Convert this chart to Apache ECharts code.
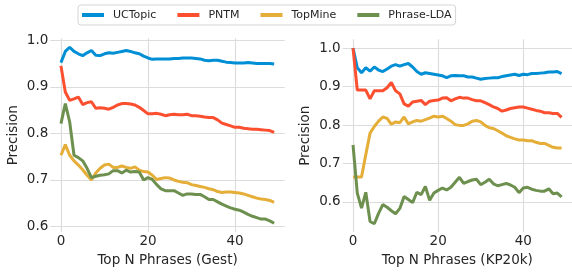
<!DOCTYPE html>
<html>
<head>
<meta charset="utf-8">
<script src="https://cdn.jsdelivr.net/npm/echarts@6/dist/echarts.min.js"></script>
<style>
  html, body { margin: 0; padding: 0; background: #fff; }
  #chart { width: 572px; height: 272px; }
</style>
</head>
<body>
<div id="chart"></div>
<script>
// x positions: Top N phrases, 0..49
var topN = [];
for (var i = 0; i < 50; i++) topN.push(i);

var methods = ['UCTopic', 'PNTM', 'TopMine', 'Phrase-LDA'];
var colors = ['#008fd5', '#fc4f30', '#e5ae38', '#6d904f'];
var xTicks = [0, 20, 40];
var yTicks = [0.6, 0.7, 0.8, 0.9, 1.0];

// Gest
var gestUCTopic = [0.952, 0.976, 0.985, 0.976, 0.971, 0.967, 0.973, 0.978, 0.968, 0.967,
  0.971, 0.973, 0.972, 0.974, 0.976, 0.978, 0.976, 0.973, 0.971, 0.966,
  0.962, 0.959, 0.960, 0.960, 0.960, 0.960, 0.961, 0.961, 0.962, 0.962,
  0.962, 0.961, 0.960, 0.957, 0.956, 0.957, 0.957, 0.955, 0.953, 0.952,
  0.951, 0.951, 0.951, 0.952, 0.951, 0.950, 0.950, 0.950, 0.950, 0.949];
var gestPNTM = [0.945, 0.889, 0.871, 0.874, 0.878, 0.862, 0.866, 0.868, 0.854, 0.855,
  0.854, 0.852, 0.856, 0.861, 0.864, 0.864, 0.863, 0.861, 0.856, 0.849,
  0.842, 0.842, 0.843, 0.841, 0.838, 0.840, 0.841, 0.840, 0.840, 0.841,
  0.838, 0.838, 0.837, 0.835, 0.834, 0.834, 0.829, 0.822, 0.819, 0.816,
  0.813, 0.813, 0.811, 0.810, 0.809, 0.809, 0.808, 0.807, 0.806, 0.802];
var gestTopMine = [0.753, 0.776, 0.753, 0.741, 0.732, 0.722, 0.710, 0.700, 0.715, 0.725,
  0.732, 0.734, 0.727, 0.727, 0.730, 0.727, 0.725, 0.728, 0.721, 0.718,
  0.717, 0.710, 0.701, 0.703, 0.705, 0.704, 0.700, 0.697, 0.695, 0.694,
  0.690, 0.688, 0.686, 0.684, 0.681, 0.679, 0.675, 0.673, 0.674, 0.674,
  0.673, 0.672, 0.670, 0.667, 0.664, 0.661, 0.659, 0.658, 0.656, 0.652];
var gestPhraseLDA = [0.821, 0.864, 0.825, 0.753, 0.748, 0.741, 0.725, 0.705, 0.708, 0.710,
  0.711, 0.713, 0.720, 0.720, 0.715, 0.721, 0.717, 0.718, 0.717, 0.700,
  0.705, 0.701, 0.690, 0.681, 0.677, 0.677, 0.677, 0.672, 0.667, 0.670,
  0.670, 0.669, 0.669, 0.664, 0.658, 0.658, 0.653, 0.648, 0.644, 0.640,
  0.637, 0.635, 0.631, 0.626, 0.622, 0.619, 0.616, 0.616, 0.612, 0.607];

// KP20k
var kpUCTopic = [1.000, 0.949, 0.936, 0.949, 0.940, 0.951, 0.943, 0.939, 0.946, 0.953,
  0.957, 0.953, 0.957, 0.960, 0.951, 0.939, 0.932, 0.936, 0.934, 0.932,
  0.930, 0.928, 0.923, 0.928, 0.929, 0.928, 0.928, 0.925, 0.925, 0.922,
  0.919, 0.921, 0.922, 0.923, 0.923, 0.926, 0.928, 0.930, 0.932, 0.929,
  0.932, 0.931, 0.934, 0.934, 0.935, 0.936, 0.938, 0.938, 0.939, 0.934];
var kpPNTM = [1.000, 0.891, 0.891, 0.891, 0.868, 0.889, 0.889, 0.889, 0.897, 0.911,
  0.889, 0.881, 0.855, 0.849, 0.860, 0.862, 0.864, 0.853, 0.862, 0.864,
  0.865, 0.870, 0.871, 0.863, 0.868, 0.872, 0.870, 0.870, 0.866, 0.863,
  0.863, 0.858, 0.853, 0.847, 0.843, 0.836, 0.839, 0.843, 0.845, 0.847,
  0.847, 0.844, 0.841, 0.838, 0.836, 0.832, 0.832, 0.830, 0.830, 0.820];
var kpTopMine = [0.665, 0.665, 0.665, 0.723, 0.779, 0.796, 0.810, 0.821, 0.817, 0.802,
  0.808, 0.806, 0.821, 0.803, 0.808, 0.812, 0.810, 0.814, 0.818, 0.823,
  0.821, 0.823, 0.817, 0.810, 0.801, 0.799, 0.799, 0.803, 0.810, 0.812,
  0.808, 0.799, 0.793, 0.791, 0.785, 0.779, 0.772, 0.768, 0.764, 0.761,
  0.761, 0.759, 0.759, 0.755, 0.752, 0.752, 0.747, 0.742, 0.740, 0.740];
var kpPhraseLDA = [0.748, 0.623, 0.584, 0.625, 0.549, 0.543, 0.570, 0.593, 0.586, 0.577,
  0.569, 0.583, 0.614, 0.606, 0.598, 0.625, 0.619, 0.640, 0.604, 0.623,
  0.630, 0.636, 0.631, 0.638, 0.651, 0.664, 0.648, 0.653, 0.657, 0.659,
  0.645, 0.651, 0.659, 0.647, 0.642, 0.645, 0.648, 0.644, 0.638, 0.624,
  0.636, 0.638, 0.633, 0.630, 0.628, 0.628, 0.634, 0.621, 0.623, 0.613];

var gestData = [gestUCTopic, gestPNTM, gestTopMine, gestPhraseLDA];
var kpData = [kpUCTopic, kpPNTM, kpTopMine, kpPhraseLDA];

var font = 'DejaVu Sans';
var textColor = '#262626';
var gridColor = '#dcdcdc';
var axisFont = 13.5;

function pairs(ys) {
  return topN.map(function (x, i) { return [x, ys[i]]; });
}

function xAxis(idx, title) {
  return {
    type: 'value', gridIndex: idx, min: -2.45, max: 51.45,
    name: title, nameLocation: 'middle', nameGap: 20,
    nameTextStyle: { fontFamily: font, fontSize: axisFont, color: textColor },
    axisLine: { show: false },
    axisTick: { show: false, customValues: xTicks },
    axisLabel: { customValues: xTicks, fontFamily: font, fontSize: axisFont, color: textColor, margin: 2 },
    splitLine: { show: true, lineStyle: { color: gridColor, width: 1.2 } }
  };
}

function yAxis(idx, min, max) {
  return {
    type: 'value', gridIndex: idx, min: min, max: max,
    name: 'Precision', nameLocation: 'middle', nameGap: 30,
    nameTextStyle: { fontFamily: font, fontSize: axisFont, color: textColor },
    axisLine: { show: false },
    axisTick: { show: false, customValues: yTicks },
    axisLabel: {
      customValues: yTicks, fontFamily: font, fontSize: axisFont, color: textColor, margin: 2,
      formatter: function (v) { return v.toFixed(1); }
    },
    splitLine: { show: true, lineStyle: { color: gridColor, width: 1.2 } }
  };
}

var series = [];
[gestData, kpData].forEach(function (set, g) {
  set.forEach(function (ys, k) {
    series.push({
      name: methods[k], type: 'line', xAxisIndex: g, yAxisIndex: g,
      data: pairs(ys), showSymbol: false, symbol: 'none',
      lineStyle: { color: colors[k], width: 3 },
      itemStyle: { color: colors[k] },
      animation: false
    });
  });
});

var chart = echarts.init(document.getElementById('chart'));
chart.setOption({
  backgroundColor: '#fff',
  animation: false,
  color: colors,
  legend: {
    data: methods, left: 78, top: 5,
    padding: [4, 4], itemGap: 21, itemWidth: 22, itemHeight: 4,
    icon: 'rect', borderColor: '#d5d5d5', borderWidth: 1, borderRadius: 3,
    textStyle: { fontFamily: font, fontSize: 11, lineHeight: 12, color: textColor, padding: [0, 0, 0, 4] }
  },
  grid: [
    { left: 50.3, top: 38.4, width: 234.5, height: 198.3 },
    { left: 342.6, top: 39.3, width: 235.8, height: 196.6 }
  ],
  xAxis: [xAxis(0, 'Top N Phrases (Gest)'), xAxis(1, 'Top N Phrases (KP20k)')],
  yAxis: [yAxis(0, 0.588, 1.004), yAxis(1, 0.5214, 1.023)],
  series: series
});
</script>
</body>
</html>
